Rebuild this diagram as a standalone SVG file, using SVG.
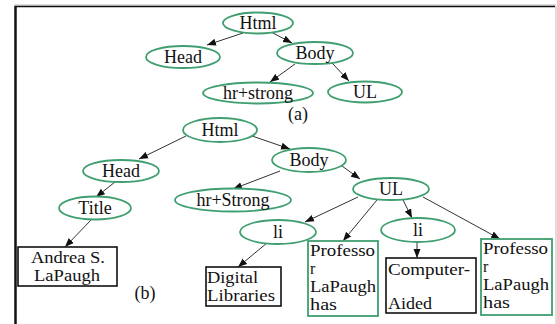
<svg xmlns="http://www.w3.org/2000/svg" width="557" height="324" viewBox="0 0 557 324">
  <defs>
    <style>
      .node ellipse { fill: #ffffff; stroke: #3f9f70; stroke-width: 1.8; }
      .gbox { fill: #ffffff; stroke: #3f9f70; stroke-width: 1.8; }
      .kbox { fill: #ffffff; stroke: #111111; stroke-width: 1.6; }
      text { font-family: "Liberation Serif", "Times New Roman", serif; font-size: 18px; fill: #111111; }
      .c { text-anchor: middle; }
      .t { font-size: 16px; }
      .edges line { stroke: #333333; stroke-width: 1; marker-end: url(#arrow); }
    </style>
    <marker id="arrow" markerUnits="userSpaceOnUse" markerWidth="9" markerHeight="8" refX="9" refY="4" orient="auto">
      <path d="M0,0.5 L9,4 L0,7.5 z" fill="#111111"/>
    </marker>
  </defs>

  <rect width="557" height="324" fill="#ffffff"/>

  <!-- frame -->
  <line x1="14" y1="5" x2="556" y2="5" stroke="#bbbbbb" stroke-width="1"/>
  <line x1="15" y1="6.5" x2="555" y2="6.5" stroke="#111111" stroke-width="1.5"/>
  <line x1="15.5" y1="6" x2="15.5" y2="324" stroke="#111111" stroke-width="2.5"/>
  <line x1="556" y1="6" x2="556" y2="324" stroke="#bbbbbb" stroke-width="1"/>

  <!-- connectors -->
  <g class="edges" id="edges">
    <!-- tree (a) -->
    <line x1="243" y1="33" x2="207" y2="45"/>
    <line x1="271" y1="32" x2="292" y2="43"/>
    <line x1="295" y1="64" x2="270" y2="82"/>
    <line x1="332" y1="63" x2="349" y2="81"/>
    <!-- tree (b) -->
    <line x1="186" y1="136" x2="139" y2="159"/>
    <line x1="252" y1="136" x2="290" y2="149"/>
    <line x1="115" y1="182" x2="96" y2="197"/>
    <line x1="91" y1="220" x2="65" y2="247"/>
    <line x1="280" y1="171" x2="233" y2="189"/>
    <line x1="342" y1="166" x2="360" y2="179"/>
    <line x1="358" y1="197" x2="305" y2="222"/>
    <line x1="377" y1="200" x2="343" y2="241"/>
    <line x1="403" y1="200" x2="412" y2="218"/>
    <line x1="423" y1="197" x2="500" y2="239"/>
    <line x1="267" y1="243" x2="238" y2="267"/>
    <line x1="417" y1="242" x2="417" y2="258"/>
  </g>

  <!-- tree (a) -->
  <g class="node" id="a-html"><ellipse cx="258" cy="23" rx="35" ry="10.5"/><text class="c" x="258" y="29">Html</text></g>
  <g class="node" id="a-head"><ellipse cx="183" cy="57" rx="37" ry="11"/><text class="c" x="183" y="63">Head</text></g>
  <g class="node" id="a-body"><ellipse cx="315" cy="53" rx="38" ry="11"/><text class="c" x="315" y="59">Body</text></g>
  <g class="node" id="a-hr"><ellipse cx="258" cy="93" rx="55" ry="10.5"/><text class="c" x="258" y="99">hr+strong</text></g>
  <g class="node" id="a-ul"><ellipse cx="365" cy="92" rx="37" ry="10.5"/><text class="c" x="365" y="98">UL</text></g>
  <text class="c" x="298" y="120">(a)</text>

  <!-- tree (b) -->
  <g class="node" id="b-html"><ellipse cx="220" cy="130" rx="37" ry="12"/><text class="c" x="220" y="136">Html</text></g>
  <g class="node" id="b-head"><ellipse cx="121" cy="171" rx="38" ry="11"/><text class="c" x="121" y="177">Head</text></g>
  <g class="node" id="b-title"><ellipse cx="95" cy="208" rx="36" ry="11.5"/><text class="c" x="95" y="214">Title</text></g>
  <g class="node" id="b-body"><ellipse cx="309" cy="160" rx="37" ry="12"/><text class="c" x="309" y="166">Body</text></g>
  <g class="node" id="b-hr"><ellipse cx="233" cy="200" rx="58" ry="11.5"/><text class="c" x="233" y="206">hr+Strong</text></g>
  <g class="node" id="b-ul"><ellipse cx="391" cy="189" rx="38" ry="11"/><text class="c" x="391" y="195">UL</text></g>
  <g class="node" id="b-li1"><ellipse cx="278" cy="232" rx="38" ry="12"/><text class="c" x="278" y="238">li</text></g>
  <g class="node" id="b-li2"><ellipse cx="418" cy="230" rx="37" ry="12"/><text class="c" x="418" y="236">li</text></g>

  <g id="b-andrea">
    <rect class="kbox" x="18" y="247" width="99" height="39"/>
    <text class="t" x="31" y="263" textLength="74" lengthAdjust="spacingAndGlyphs">Andrea S.</text>
    <text class="t" x="34" y="281" textLength="66" lengthAdjust="spacingAndGlyphs">LaPaugh</text>
  </g>
  <g id="b-digital">
    <rect class="kbox" x="206" y="267" width="75" height="39"/>
    <text class="t" x="207" y="283" textLength="51" lengthAdjust="spacingAndGlyphs">Digital</text>
    <text class="t" x="207" y="301" textLength="68" lengthAdjust="spacingAndGlyphs">Libraries</text>
  </g>
  <g id="b-prof1">
    <rect class="gbox" x="308" y="241" width="70" height="75"/>
    <text class="t" x="310" y="256" textLength="65" lengthAdjust="spacingAndGlyphs">Professo</text>
    <text class="t" x="310" y="274">r</text>
    <text class="t" x="310" y="292" textLength="66" lengthAdjust="spacingAndGlyphs">LaPaugh</text>
    <text class="t" x="310" y="310" textLength="27" lengthAdjust="spacingAndGlyphs">has</text>
  </g>
  <g id="b-computer">
    <rect class="kbox" x="386" y="258" width="90" height="55"/>
    <text class="t" x="388" y="275" textLength="82" lengthAdjust="spacingAndGlyphs">Computer-</text>
    <text class="t" x="388" y="309" textLength="44" lengthAdjust="spacingAndGlyphs">Aided</text>
  </g>
  <g id="b-prof2">
    <rect class="gbox" x="481" y="239" width="71" height="76"/>
    <text class="t" x="483" y="254" textLength="65" lengthAdjust="spacingAndGlyphs">Professo</text>
    <text class="t" x="483" y="272">r</text>
    <text class="t" x="483" y="290" textLength="66" lengthAdjust="spacingAndGlyphs">LaPaugh</text>
    <text class="t" x="483" y="308" textLength="27" lengthAdjust="spacingAndGlyphs">has</text>
  </g>
  <text class="c" x="145" y="299">(b)</text>
</svg>
